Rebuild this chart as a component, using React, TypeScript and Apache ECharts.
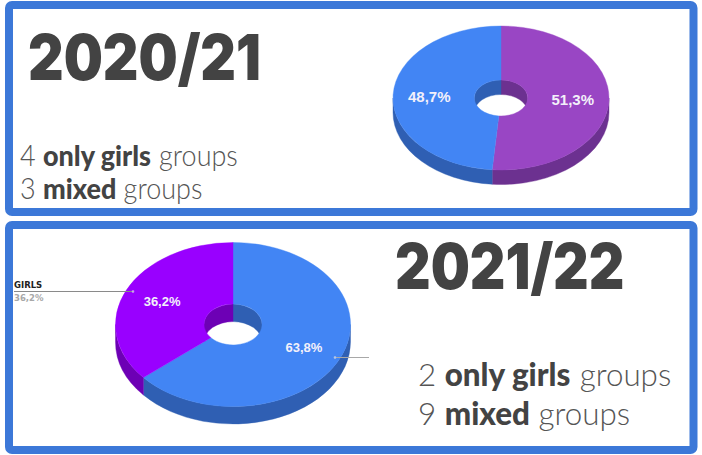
import React, { useEffect, useRef } from "react";
import * as echarts from "echarts";

const pie2021Values = [51.3, 48.7];
const pie2021Colors = ["#9946c4", "#4285f4"];
const pie2021Walls = ["#6c3190", "#2f5fb3"];

const pie2122Values = [63.8, 36.2];
const pie2122Colors = ["#4285f4", "#9900ff"];
const pie2122Walls = ["#2f5fb3", "#6d00b5"];

const titles = ["2020/21", "2021/22"];
const calloutName = "GIRLS";
const calloutValue = "36,2%";

type Geo = { cx: number; cy: number; rx: number; ry: number; hrx: number; hry: number; depth: number; fs: number };

function pieSeries(values: number[], colors: string[], walls: string[], g: Geo) {
  const total = values.reduce((s, v) => s + v, 0);
  const pt = (a: number, rx: number, ry: number, dy = 0) => {
    const t = (a * Math.PI) / 180;
    return [g.cx + rx * Math.sin(t), g.cy - ry * Math.cos(t) + dy];
  };
  const wall = (a: number, b: number, rx: number, ry: number) => {
    const p0 = pt(a, rx, ry);
    const p1 = pt(b, rx, ry);
    const p2 = pt(b, rx, ry, g.depth);
    const p3 = pt(a, rx, ry, g.depth);
    const l = b - a > 180 ? 1 : 0;
    return `M${p0[0]} ${p0[1]}A${rx} ${ry} 0 ${l} 1 ${p1[0]} ${p1[1]}L${p2[0]} ${p2[1]}A${rx} ${ry} 0 ${l} 0 ${p3[0]} ${p3[1]}Z`;
  };
  const face = (a: number, b: number) => {
    const l = b - a > 180 ? 1 : 0;
    const p0 = pt(a, g.rx, g.ry);
    const p1 = pt(b, g.rx, g.ry);
    const p2 = pt(b, g.hrx, g.hry);
    const p3 = pt(a, g.hrx, g.hry);
    return `M${p0[0]} ${p0[1]}A${g.rx} ${g.ry} 0 ${l} 1 ${p1[0]} ${p1[1]}L${p2[0]} ${p2[1]}A${g.hrx} ${g.hry} 0 ${l} 0 ${p3[0]} ${p3[1]}Z`;
  };
  const clip = (a: number, b: number, lo: number, hi: number) => {
    const s = Math.max(a, lo);
    const e = Math.min(b, hi);
    return e > s ? [s, e] : null;
  };
  return {
    type: "custom",
    coordinateSystem: "none",
    silent: true,
    data: values.map((v) => [v]),
    renderItem(params: any, api: any) {
      const i = params.dataIndex;
      const v = api.value(0) as number;
      const before = values.slice(0, i).reduce((s, x) => s + x, 0);
      const a0 = (before / total) * 360;
      const a1 = ((before + v) / total) * 360;
      const children: any[] = [];
      const outer = clip(a0, a1, 90, 270);
      if (outer) {
        children.push({ type: "path", z2: 1, shape: { pathData: wall(outer[0], outer[1], g.rx, g.ry) }, style: { fill: walls[i], stroke: walls[i], lineWidth: 0.4 } });
      }
      for (const [lo, hi] of [[0, 90], [270, 360]]) {
        const inner = clip(a0, a1, lo, hi);
        if (inner) {
          children.push({ type: "path", z2: 1, shape: { pathData: wall(inner[0], inner[1], g.hrx, g.hry) }, style: { fill: walls[i], stroke: walls[i], lineWidth: 0.4 } });
        }
      }
      children.push({ type: "path", z2: 2, shape: { pathData: face(a0, a1) }, style: { fill: colors[i], stroke: colors[i], lineWidth: 0.4 } });
      const mid = pt((a0 + a1) / 2, g.rx * 0.665, g.ry * 0.665);
      children.push({
        type: "text",
        z2: 3,
        x: mid[0],
        y: mid[1],
        style: {
          text: `${v.toFixed(1).replace(".", ",")}%`,
          fill: "#f3f0fa",
          font: `bold ${g.fs}px "Liberation Sans", Arial, sans-serif`,
          align: "center",
          verticalAlign: "middle",
        },
      });
      return { type: "group", children };
    },
  };
}

const frame = (x: number, y: number, width: number, height: number) => ({
  type: "rect",
  shape: { x, y, width, height, r: 3 },
  style: { fill: "#ffffff", stroke: "#3c78d8", lineWidth: 8 },
  z: 0,
});

const titleText = (text: string, x: number, y: number) => ({
  type: "text",
  x,
  y,
  scaleX: 0.875,
  style: {
    text,
    fill: "#434343",
    font: '900 63px Inter, "Noto Sans", sans-serif',
    align: "left",
    verticalAlign: "middle",
  },
  z: 5,
});

const groupsText = (line: string, x: number, y: number, fs: number, sx: number) => ({
  type: "text",
  x,
  y,
  scaleX: sx,
  style: {
    text: line,
    align: "left",
    verticalAlign: "middle",
    rich: {
      n: { font: `300 ${fs}px Lato, "Open Sans", sans-serif`, fill: "#555555" },
      b: { font: `900 ${fs}px Lato, "Open Sans", sans-serif`, fill: "#434343" },
    },
  },
  z: 5,
});

export default function App() {
  const ref = useRef<HTMLDivElement>(null);
  useEffect(() => {
    const chart = echarts.init(ref.current!, null, { renderer: "svg" });
    chart.setOption({
      animation: false,
      backgroundColor: "#ffffff",
      graphic: {
        elements: [
          frame(9, 5, 684.5, 207),
          frame(9, 225, 684.5, 225),
          titleText(titles[0], 28, 57),
          titleText(titles[1], 395, 266),
          groupsText("{n|4 }{b|only girls}{n| groups}", 20, 155, 29, 0.93),
          groupsText("{n|3 }{b|mixed}{n| groups}", 20, 188, 29, 0.93),
          groupsText("{n|2 }{b|only girls}{n| groups}", 418, 374, 32, 0.98),
          groupsText("{n|9 }{b|mixed}{n| groups}", 418, 413, 32, 0.98),
          { type: "line", shape: { x1: 14, y1: 291.5, x2: 133, y2: 291.5 }, style: { stroke: "#8a8a8a", lineWidth: 1 }, z: 5 },
          { type: "circle", shape: { cx: 133, cy: 291.5, r: 1.3 }, style: { fill: "#c9a0e8" }, z: 5 },
          { type: "line", shape: { x1: 335, y1: 357.5, x2: 369, y2: 357.5 }, style: { stroke: "#a8a8a8", lineWidth: 1 }, z: 5 },
          { type: "circle", shape: { cx: 335, cy: 357.5, r: 1.3 }, style: { fill: "#b0c4e8" }, z: 5 },
          {
            type: "text", x: 14, y: 285,
            style: { text: calloutName, fill: "#222222", font: 'bold 8.5px "DejaVu Sans", sans-serif', align: "left", verticalAlign: "middle" },
            z: 5,
          },
          {
            type: "text", x: 14, y: 297.5,
            style: { text: calloutValue, fill: "#a8a8a8", font: 'bold 8.5px "DejaVu Sans", sans-serif', align: "left", verticalAlign: "middle" },
            z: 5,
          },
        ],
      },
      series: [
        pieSeries(pie2021Values, pie2021Colors, pie2021Walls, { cx: 501, cy: 98, rx: 108, ry: 72, hrx: 26.7, hry: 18, depth: 14.5, fs: 15 }),
        pieSeries(pie2122Values, pie2122Colors, pie2122Walls, { cx: 233, cy: 324.5, rx: 117.5, ry: 82, hrx: 29, hry: 20.4, depth: 17.5, fs: 13 }),
      ],
    });
    return () => chart.dispose();
  }, []);
  return <div ref={ref} style={{ position: "fixed", left: 0, top: 0, width: 702, height: 455 }} />;
}
